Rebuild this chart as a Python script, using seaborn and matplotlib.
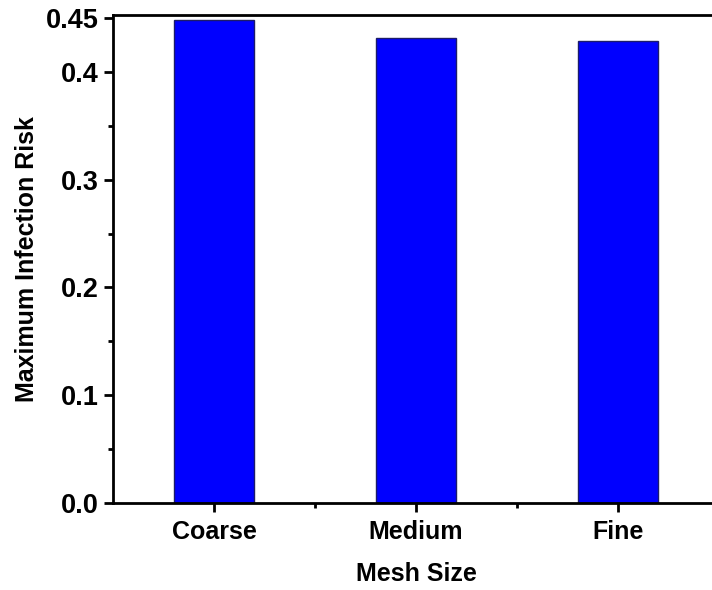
import matplotlib
matplotlib.use("Agg")
import matplotlib.pyplot as plt
from matplotlib.ticker import FixedLocator
import seaborn as sns
import pandas as pd

# Mesh sensitivity results
mesh_sizes = ["Coarse", "Medium", "Fine"]
max_risk = [0.448, 0.431, 0.429]
y_ticks = [0.0, 0.1, 0.2, 0.3, 0.4, 0.45]
y_tick_labels = ["0.0", "0.1", "0.2", "0.3", "0.4", "0.45"]

sns.set_style("ticks")
plt.rcParams["font.family"] = ["Liberation Sans", "DejaVu Sans"]
plt.rcParams["font.weight"] = "bold"
plt.rcParams["text.color"] = "black"
plt.rcParams["axes.labelcolor"] = "black"
plt.rcParams["xtick.color"] = "black"
plt.rcParams["ytick.color"] = "black"

df = pd.DataFrame({"Mesh Size": mesh_sizes, "Risk": max_risk})

fig = plt.figure(figsize=(7.12, 5.90), dpi=100)
ax = fig.add_axes([0.1587, 0.1475, 0.851, 0.8271])

sns.barplot(data=df, x="Mesh Size", y="Risk", ax=ax, color="#0000FF",
            saturation=1, width=0.4, edgecolor="#1c1c6a", linewidth=1.0)

ax.set_xlim(-0.5, 2.5)
ax.set_ylim(0, 0.4528)
ax.yaxis.set_major_locator(FixedLocator(y_ticks))
ax.set_yticklabels(y_tick_labels)
ax.yaxis.set_minor_locator(FixedLocator([0.05, 0.15, 0.25, 0.35]))
ax.xaxis.set_minor_locator(FixedLocator([0.5, 1.5]))

for side in ["left", "right", "top", "bottom"]:
    ax.spines[side].set_visible(True)
    ax.spines[side].set_linewidth(2.0)
    ax.spines[side].set_color("black")

ax.tick_params(axis="both", which="major", direction="out", length=6.5, width=2.0,
               color="black", labelcolor="black")
ax.tick_params(axis="y", which="major", pad=4, labelsize=19.5)
ax.tick_params(axis="x", which="major", pad=6, labelsize=18)
ax.tick_params(axis="both", which="minor", direction="out", length=3.5, width=2.0,
               color="black")
for lbl in ax.get_xticklabels() + ax.get_yticklabels():
    lbl.set_fontweight("bold")

ax.set_xlabel("Mesh Size", fontsize=18, fontweight="bold", labelpad=13, color="black")
ax.set_ylabel("Maximum Infection Risk", fontsize=18, fontweight="bold", labelpad=5,
              color="black")

fig.savefig("out.png", dpi=100)
